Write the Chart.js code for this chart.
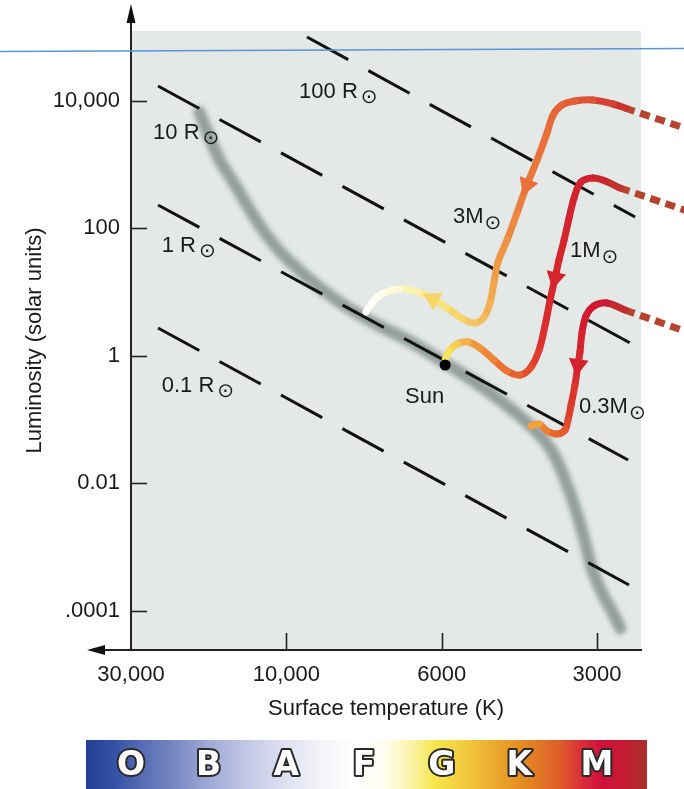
<!DOCTYPE html>
<html>
<head>
<meta charset="utf-8">
<script src="https://cdn.jsdelivr.net/npm/chart.js"></script>
<style>
html,body{margin:0;padding:0;background:#fff;}
#wrap{width:684px;height:789px;position:relative;}
canvas{display:block;}
</style>
</head>
<body>
<div id="wrap"><canvas id="hr" width="684" height="789"></canvas></div>
<script>
// ---------------- DATA ----------------
// x = position on the (schematic) temperature axis, 0 = 30,000 K ... 3 = 3000 K
// y = log10(luminosity in solar units)
const xTickValues = [0, 1, 2, 3];
const xTickLabels = ['30,000', '10,000', '6000', '3000'];
const yTickValues = [4, 2, 0, -2, -4];
const yTickLabels = ['10,000', '100', '1', '0.01', '.0001'];
const spectralClasses = ['O', 'B', 'A', 'F', 'G', 'K', 'M'];
const spectralPositions = [0, 0.5, 1, 1.5, 2, 2.5, 3];

const mainSequence = [
  {x:0.44,y:3.82},{x:0.50,y:3.46},{x:0.57,y:3.07},{x:0.66,y:2.72},{x:0.75,y:2.35},
  {x:0.85,y:1.97},{x:0.95,y:1.66},{x:1.08,y:1.35},{x:1.22,y:1.06},{x:1.40,y:0.75},
  {x:1.60,y:0.47},{x:1.80,y:0.22},{x:2.02,y:-0.11},{x:2.25,y:-0.47},{x:2.44,y:-0.82},
  {x:2.57,y:-1.09},{x:2.67,y:-1.35},{x:2.74,y:-1.63},{x:2.80,y:-1.98},{x:2.86,y:-2.39},
  {x:2.92,y:-2.89},{x:2.97,y:-3.36},{x:3.04,y:-3.75},{x:3.10,y:-4.02},{x:3.15,y:-4.27}
];

const radius100 = [{x:1.133,y:4.997},{x:3.245,y:2.176}];
const radius10  = [{x:0.174,y:4.229},{x:3.213,y:0.201}];
const radius1   = [{x:0.174,y:2.364},{x:3.200,y:-1.633}];
const radius01  = [{x:0.174,y:0.436},{x:3.206,y:-3.592}];

const track3M = [
  {x:3.180,y:3.884},{x:3.103,y:3.947},{x:2.974,y:4.009},{x:2.858,y:3.994},{x:2.774,y:3.931},
  {x:2.717,y:3.774},{x:2.678,y:3.492},{x:2.614,y:3.069},{x:2.549,y:2.677},{x:2.485,y:2.238},
  {x:2.421,y:1.815},{x:2.363,y:1.470},{x:2.337,y:1.157},{x:2.311,y:0.828},{x:2.273,y:0.608},
  {x:2.215,y:0.514},{x:2.138,y:0.577},{x:2.035,y:0.749},{x:1.944,y:0.890},{x:1.848,y:1.000},
  {x:1.732,y:1.047},{x:1.616,y:0.969},{x:1.551,y:0.828},{x:1.513,y:0.687}
];
const track1M = [
  {x:3.148,y:2.630},{x:3.052,y:2.740},{x:2.974,y:2.787},{x:2.897,y:2.724},{x:2.852,y:2.473},
  {x:2.820,y:2.160},{x:2.788,y:1.815},{x:2.755,y:1.502},{x:2.730,y:1.219},{x:2.698,y:0.875},
  {x:2.666,y:0.483},{x:2.627,y:0.091},{x:2.575,y:-0.176},{x:2.505,y:-0.301},{x:2.421,y:-0.238},
  {x:2.337,y:-0.066},{x:2.247,y:0.122},{x:2.170,y:0.216},{x:2.099,y:0.185},{x:2.048,y:0.075},
  {x:2.022,y:-0.066}
];
const track03M = [
  {x:3.180,y:0.718},{x:3.064,y:0.828},{x:2.980,y:0.781},{x:2.929,y:0.624},{x:2.903,y:0.357},
  {x:2.890,y:0.060},{x:2.877,y:-0.144},{x:2.858,y:-0.457},{x:2.833,y:-0.771},{x:2.813,y:-1.006},
  {x:2.794,y:-1.163},{x:2.743,y:-1.226},{x:2.678,y:-1.179},{x:2.627,y:-1.069},{x:2.575,y:-1.100}
];
const protostar3M  = [{x:3.180,y:3.884},{x:3.600,y:3.539}];
const protostar1M  = [{x:3.148,y:2.630},{x:3.600,y:2.254}];
const protostar03M = [{x:3.180,y:0.718},{x:3.600,y:0.357}];

const sunPoint = [{x:2.022,y:-0.144}];

const radiusLabelTexts = ['100 R', '10 R', '1 R', '0.1 R'];
const radiusLabelAt = [{x:1.082,y:4.041},{x:0.142,y:3.398},{x:0.198,y:1.632},{x:0.198,y:-0.563}];
const massLabelTexts = ['3M', '1M', '0.3M'];
const massLabelAt = [{x:2.073,y:2.081},{x:2.826,y:1.553},{x:2.884,y:-0.901}];
const sunLabelText = 'Sun';
const sunLabelAt = {x:1.764,y:-0.735};

// arrows sit on these track vertices
const arrowDefs = [
  {track: track3M, i: 8}, {track: track3M, i: 18}, {track: track1M, i: 8}, {track: track03M, i: 6}
];

// ---------------- STYLE ----------------
const FONT = "'Liberation Sans', Arial, Helvetica, sans-serif";
const INK = '#1a1a1a';
const ramp3M = [[0,'#c8282e'],[0.13,'#e25a36'],[0.35,'#ea7a3a'],[0.52,'#f0a048'],[0.65,'#f4c060'],
                [0.74,'#f7de70'],[0.83,'#faf0a0'],[0.91,'#fffce8'],[1,'#ffffff']];
const ramp1M = [[0,'#b83a2e'],[0.1,'#d0202e'],[0.5,'#da2a2c'],[0.6,'#e0402a'],[0.65,'#e45a2c'],
                [0.75,'#ec7a34'],[0.85,'#f0a040'],[0.9,'#f4c050'],[0.95,'#f6dc58'],[1,'#f8ec62']];
const ramp03M = [[0,'#b83a2e'],[0.07,'#cc1a30'],[0.21,'#d01830'],[0.43,'#d82a2e'],[0.64,'#de402c'],
                 [0.71,'#e2502c'],[0.86,'#e87030'],[0.93,'#ee9038'],[1,'#f2b040']];
const spectralStops = [[0,'#223f96'],[0.05,'#3550a4'],[0.08,'#4a62ae'],[0.15,'#7384c0'],[0.22,'#a0aad6'],
  [0.30,'#c8cde8'],[0.36,'#e0e2f2'],[0.43,'#f6f6fa'],[0.48,'#ffffff'],[0.53,'#fffdf0'],[0.58,'#faf3a8'],
  [0.62,'#f6e64e'],[0.68,'#f2c83c'],[0.74,'#eaa22a'],[0.78,'#e48a22'],[0.84,'#e0602a'],[0.89,'#d8283a'],
  [0.92,'#d0103a'],[0.96,'#c41c32'],[1,'#a8302a']];

function hexToRgb(h){return [parseInt(h.slice(1,3),16),parseInt(h.slice(3,5),16),parseInt(h.slice(5,7),16)];}
function rampColor(stops, t){
  t = Math.max(0, Math.min(1, t));
  for (let i = 1; i < stops.length; i++) {
    if (t <= stops[i][0]) {
      const t0 = stops[i-1][0], t1 = stops[i][0];
      const f = (t - t0) / ((t1 - t0) || 1);
      const a = hexToRgb(stops[i-1][1]), b = hexToRgb(stops[i][1]);
      return 'rgb(' + a.map((v,k)=>Math.round(v + (b[k]-v)*f)).join(',') + ')';
    }
  }
  return stops[stops.length-1][1];
}

function trackDataset(data, ramp, order) {
  const n = data.length;
  return {
    data, showLine: true, pointRadius: 0, pointHoverRadius: 0, borderWidth: 7,
    borderCapStyle: 'round', borderJoinStyle: 'round', tension: 0.35, clip: false, order,
    borderColor: rampColor(ramp, 0.5),
    segment: { borderColor: c => rampColor(ramp, (c.p0DataIndex + 0.5) / (n - 1)) }
  };
}
function dottedDataset(data, order) {
  return { data, showLine: true, pointRadius: 0, pointHoverRadius: 0, borderWidth: 7,
    borderColor: '#b5432e', borderDash: [10, 6], borderCapStyle: 'butt', clip: false, order };
}
function radiusDataset(data) {
  return { data, showLine: true, pointRadius: 0, pointHoverRadius: 0, borderWidth: 3,
    borderColor: '#111111', borderDash: [47, 23], borderCapStyle: 'butt', order: 40 };
}

const rampOf = new Map([[track3M, ramp3M], [track1M, ramp1M], [track03M, ramp03M]]);

const datasets = [
  { data: mainSequence, showLine: true, pointRadius: 0, pointHoverRadius: 0, borderWidth: 12,
    borderColor: 'rgba(136,149,145,0.88)', tension: 0.4, borderCapStyle: 'round', order: 50, isMS: true },
  radiusDataset(radius100), radiusDataset(radius10), radiusDataset(radius1), radiusDataset(radius01),
  dottedDataset(protostar3M, 30), dottedDataset(protostar1M, 30), dottedDataset(protostar03M, 30),
  trackDataset(track3M, ramp3M, 20), trackDataset(track1M, ramp1M, 21), trackDataset(track03M, ramp03M, 22),
  { data: arrowDefs.map(a => a.track[a.i]), showLine: false, pointStyle: 'triangle', pointRadius: 11.5,
    pointHoverRadius: 11.5, pointBorderWidth: 0, borderWidth: 0, clip: false, order: 5,
    pointRotation: c => {
      const a = arrowDefs[c.dataIndex]; if (!a) return 0;
      const xs = c.chart.scales.x, ys = c.chart.scales.y;
      const p0 = a.track[a.i-1], p1 = a.track[a.i+1];
      const dx = xs.getPixelForValue(p1.x) - xs.getPixelForValue(p0.x);
      const dy = ys.getPixelForValue(p1.y) - ys.getPixelForValue(p0.y);
      return Math.atan2(dx, -dy) * 180 / Math.PI;
    },
    pointBackgroundColor: c => {
      const a = arrowDefs[c.dataIndex]; if (!a) return '#e8843a';
      return rampColor(rampOf.get(a.track), (a.i - 1.5) / (a.track.length - 1));
    }
  },
  { data: sunPoint, showLine: false, pointRadius: 5.5, pointHoverRadius: 5.5, pointBackgroundColor: '#000',
    pointBorderWidth: 0, order: 3 }
];

// ---------------- PLUGINS ----------------
const backdrop = {
  id: 'backdrop',
  beforeDraw(chart) {
    const {ctx, chartArea: a} = chart;
    ctx.save();
    ctx.fillStyle = '#ffffff'; ctx.fillRect(0, 0, chart.width, chart.height);
    ctx.fillStyle = '#e4e9e7'; ctx.fillRect(a.left, a.top, a.right - a.left, a.bottom - a.top);
    ctx.restore();
  }
};
const blurMS = {
  id: 'blurMS',
  beforeDatasetDraw(chart, args) {
    if (chart.data.datasets[args.index].isMS) { chart.ctx.save(); chart.ctx.filter = 'blur(2.4px)'; }
  },
  afterDatasetDraw(chart, args) {
    if (chart.data.datasets[args.index].isMS) { chart.ctx.restore(); }
  }
};
function drawSolar(ctx, xLeft, yCenter, diameter) {
  ctx.save();
  let size = 20;
  ctx.font = size + "px 'DejaVu Sans'";
  let m = ctx.measureText('\u2299');
  const h = (m.actualBoundingBoxAscent + m.actualBoundingBoxDescent) || 14;
  size = size * diameter / h;
  ctx.font = size.toFixed(2) + "px 'DejaVu Sans'";
  m = ctx.measureText('\u2299');
  ctx.textAlign = 'left'; ctx.textBaseline = 'alphabetic';
  const base = yCenter + (m.actualBoundingBoxAscent - m.actualBoundingBoxDescent) / 2;
  ctx.fillStyle = INK;
  ctx.fillText('\u2299', xLeft + m.actualBoundingBoxLeft, base);
  ctx.restore();
}
const annotations = {
  id: 'annotations',
  afterDatasetsDraw(chart) {
    const {ctx} = chart; const xs = chart.scales.x, ys = chart.scales.y;
    ctx.save();
    ctx.fillStyle = INK; ctx.textAlign = 'left'; ctx.textBaseline = 'alphabetic';
    ctx.font = '22px ' + FONT;
    // inward tick marks
    const a = chart.chartArea;
    ctx.strokeStyle = '#222'; ctx.lineWidth = 1.6;
    yTickValues.forEach(v => {
      const y = Math.round(ys.getPixelForValue(v)) + 0.5;
      ctx.beginPath(); ctx.moveTo(a.left, y); ctx.lineTo(a.left + 16, y); ctx.stroke();
    });
    xTickValues.slice(1).forEach(v => {
      const x = Math.round(xs.getPixelForValue(v)) + 0.5;
      ctx.beginPath(); ctx.moveTo(x, a.bottom); ctx.lineTo(x, a.bottom - 17); ctx.stroke();
    });
    radiusLabelTexts.forEach((t, i) => {
      const x = xs.getPixelForValue(radiusLabelAt[i].x), y = ys.getPixelForValue(radiusLabelAt[i].y);
      ctx.font = '22px ' + FONT; ctx.fillStyle = INK;
      ctx.fillText(t, x, y);
      const w = ctx.measureText(t).width;
      drawSolar(ctx, x + w + 4, y - 1, 14);
    });
    massLabelTexts.forEach((t, i) => {
      const x = xs.getPixelForValue(massLabelAt[i].x), y = ys.getPixelForValue(massLabelAt[i].y);
      ctx.font = '22px ' + FONT; ctx.fillStyle = INK;
      ctx.fillText(t, x, y);
      const w = ctx.measureText(t).width;
      drawSolar(ctx, x + w + 2, y, 14);
    });
    ctx.font = '22px ' + FONT; ctx.fillStyle = INK;
    ctx.fillText(sunLabelText, xs.getPixelForValue(sunLabelAt.x), ys.getPixelForValue(sunLabelAt.y));
    ctx.restore();
  }
};
const extras = {
  id: 'extras',
  afterDraw(chart) {
    const {ctx, chartArea: a} = chart; const xs = chart.scales.x;
    ctx.save();
    // axis arrows
    ctx.strokeStyle = '#222'; ctx.fillStyle = '#111'; ctx.lineWidth = 2;
    ctx.beginPath(); ctx.moveTo(a.left, a.top); ctx.lineTo(a.left, 20); ctx.stroke();
    ctx.beginPath(); ctx.moveTo(a.left, 4); ctx.lineTo(a.left - 4.5, 23); ctx.lineTo(a.left + 4.5, 23); ctx.closePath(); ctx.fill();
    ctx.beginPath(); ctx.moveTo(a.left, a.bottom); ctx.lineTo(100, a.bottom); ctx.stroke();
    ctx.beginPath(); ctx.moveTo(87, a.bottom); ctx.lineTo(105, a.bottom - 5); ctx.lineTo(105, a.bottom + 5); ctx.closePath(); ctx.fill();
    // spectral class bar
    const px = spectralPositions.map(v => xs.getPixelForValue(v));
    const left = px[0] - 45, right = px[px.length - 1] + 50, top = a.bottom + 90, bottom = chart.height;
    const g = ctx.createLinearGradient(left, 0, right, 0);
    spectralStops.forEach(s => g.addColorStop(s[0], s[1]));
    ctx.fillStyle = g; ctx.fillRect(left, top, right - left, bottom - top);
    ctx.font = "bold 33px 'DejaVu Sans', sans-serif";
    ctx.textAlign = 'center'; ctx.textBaseline = 'middle';
    ctx.lineJoin = 'round'; ctx.lineWidth = 4; ctx.strokeStyle = '#2a2a2a'; ctx.fillStyle = '#ffffff';
    spectralClasses.forEach((c, i) => {
      ctx.strokeText(c, px[i], top + 26);
      ctx.fillText(c, px[i], top + 26);
    });
    // thin blue rule across the figure
    ctx.strokeStyle = '#5597dc'; ctx.lineWidth = 1.3;
    ctx.beginPath(); ctx.moveTo(0, a.top + 20.5); ctx.lineTo(chart.width, a.top + 17.5); ctx.stroke();
    ctx.restore();
  }
};

// ---------------- CHART ----------------
Chart.defaults.font.family = FONT;
Chart.defaults.font.size = 22;
Chart.defaults.color = INK;

new Chart(document.getElementById('hr'), {
  type: 'scatter',
  data: { datasets },
  options: {
    responsive: false, animation: false, devicePixelRatio: 1,
    layout: { padding: { left: 0, top: 31, right: 43, bottom: 0 } },
    events: [],
    plugins: { legend: { display: false }, tooltip: { enabled: false } },
    scales: {
      x: {
        type: 'linear', min: 0, max: 3.283,
        afterBuildTicks: s => { s.ticks = xTickValues.map(v => ({ value: v })); },
        afterFit: s => { s.height = 139; },
        ticks: { callback: v => xTickLabels[xTickValues.indexOf(v)], padding: 12, maxRotation: 0,
                 autoSkip: false, font: { size: 22 }, color: INK },
        grid: { drawOnChartArea: false, drawTicks: false },
        border: { display: true, color: '#222', width: 2 },
        title: { display: true, text: 'Surface temperature (K)', color: INK, font: { size: 22 },
                 padding: { top: 0, bottom: 67 } }
      },
      y: {
        type: 'linear', min: -4.611, max: 5.091,
        afterBuildTicks: s => { s.ticks = yTickValues.map(v => ({ value: v })); },
        afterFit: s => { s.width = 131; },
        ticks: { callback: v => yTickLabels[yTickValues.indexOf(v)], padding: 11, autoSkip: false,
                 font: { size: 22 }, color: INK },
        grid: { drawOnChartArea: false, drawTicks: false },
        border: { display: true, color: '#222', width: 2 },
        title: { display: true, text: 'Luminosity (solar units)', color: INK, font: { size: 22 },
                 padding: { top: 22, bottom: 0 } }
      }
    }
  },
  plugins: [backdrop, blurMS, annotations, extras]
});
</script>
</body>
</html>
